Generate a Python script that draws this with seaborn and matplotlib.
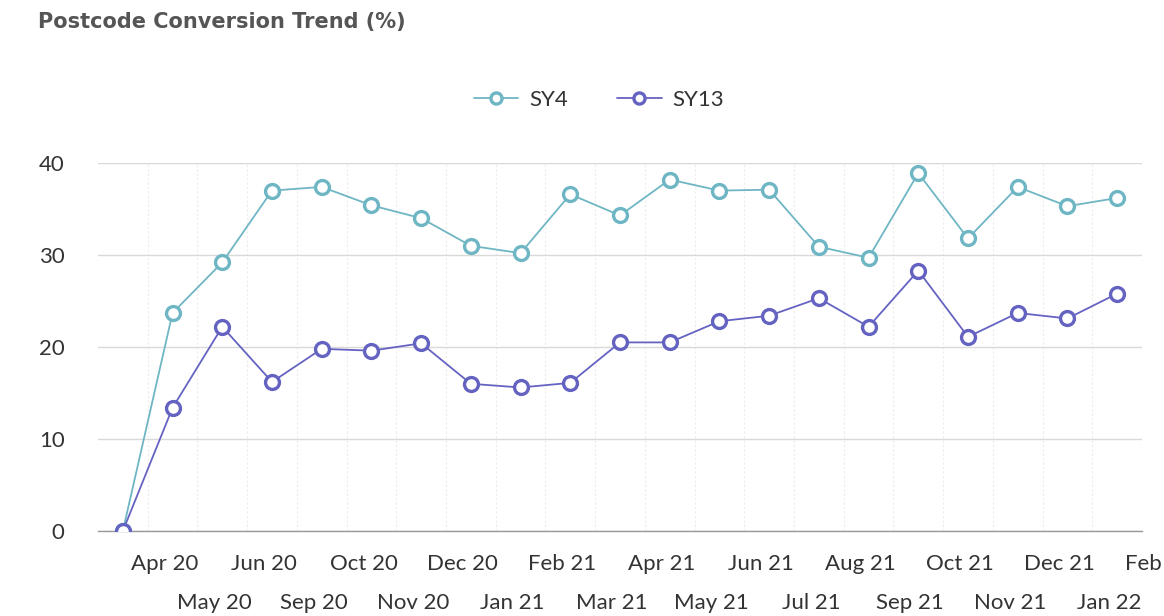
import pandas as pd
import matplotlib.pyplot as plt
import seaborn as sns

# values (21 monthly points)
sy4 = [0, 23.7, 29.2, 37.0, 37.4, 35.4, 34.0, 31.0, 30.2, 36.6, 34.3,
       38.2, 37.0, 37.1, 30.9, 29.7, 38.9, 31.8, 37.4, 35.3, 36.2]
sy13 = [0, 13.4, 22.2, 16.2, 19.8, 19.6, 20.4, 16.0, 15.6, 16.1, 20.5,
        20.5, 22.8, 23.4, 25.3, 22.2, 28.3, 21.1, 23.7, 23.1, 25.8]
# tick labels as shown; they sit one slot after each point in the original
month_labels = ['Apr 20', 'May 20', 'Jun 20', 'Sep 20', 'Oct 20', 'Nov 20',
                'Dec 20', 'Jan 21', 'Feb 21', 'Mar 21', 'Apr 21', 'May 21',
                'Jun 21', 'Jul 21', 'Aug 21', 'Sep 21', 'Oct 21', 'Nov 21',
                'Dec 21', 'Jan 22', 'Feb 22']
series_names = ['SY4', 'SY13']
colors = {'SY4': '#6fb6c4', 'SY13': '#6563c2'}

if __name__ == '__main__':

    df = pd.DataFrame({'SY4': sy4, 'SY13': sy13})
    df['idx'] = range(len(df))
    long = df.melt(id_vars='idx', value_vars=series_names,
                   var_name='series', value_name='value')

    sns.set_style('white')
    plt.rcParams['font.family'] = ['Lato', 'DejaVu Sans']

    fig = plt.figure(figsize=(11.64, 6.16), dpi=100)
    ax = fig.add_axes([98 / 1164, 85 / 616, 1044 / 1164, 368 / 616])

    for name in series_names:
        sub = long[long['series'] == name]
        sns.lineplot(data=sub, x='idx', y='value', ax=ax, color=colors[name],
                     linewidth=1.3, marker='o', markersize=10,
                     markerfacecolor='white', markeredgecolor=colors[name],
                     markeredgewidth=2.4, label=name, zorder=3)

    n = len(sy4)
    ax.set_xlim(-0.5, n - 0.5)
    ax.set_ylim(0, 40)
    ax.set_yticks([0, 10, 20, 30, 40])
    ax.yaxis.grid(True, color='#d9d9d9', linewidth=1)
    for i in range(n):
        ax.axvline(i + 0.5, color='#ececec', linewidth=0.8,
                   linestyle=(0, (2, 2)), zorder=0)

    for s in ['top', 'right', 'left']:
        ax.spines[s].set_visible(False)
    ax.spines['bottom'].set_color('#999999')
    ax.spines['bottom'].set_linewidth(1)

    ax.set_xticks([])
    ax.tick_params(axis='y', labelsize=16, colors='#333333', length=0, pad=24)
    ax.set_xlabel('')
    ax.set_ylabel('')

    # staggered month labels, offset slightly left of each slot
    for j, lab in enumerate(month_labels):
        xpos = j + 1 - 0.16
        ypos = -0.09 if j % 2 == 0 else -0.195
        ax.text(xpos, ypos, lab, transform=ax.get_xaxis_transform(),
                ha='center', va='center', fontsize=16, color='#333333',
                clip_on=False)

    leg = ax.legend(loc='lower center', bbox_to_anchor=(0.48, 1.09), ncol=2,
                    frameon=False, fontsize=16, handlelength=2.0,
                    columnspacing=2.2, handletextpad=0.5, markerscale=0.8)
    for t in leg.get_texts():
        t.set_color('#333333')

    fig.text(38 / 1164, 1 - 22 / 616, 'Postcode Conversion Trend (%)',
             fontsize=15, fontweight='bold', color='#555555',
             family=['DejaVu Sans'], ha='left', va='center')

    fig.savefig('out.png', dpi=100)
